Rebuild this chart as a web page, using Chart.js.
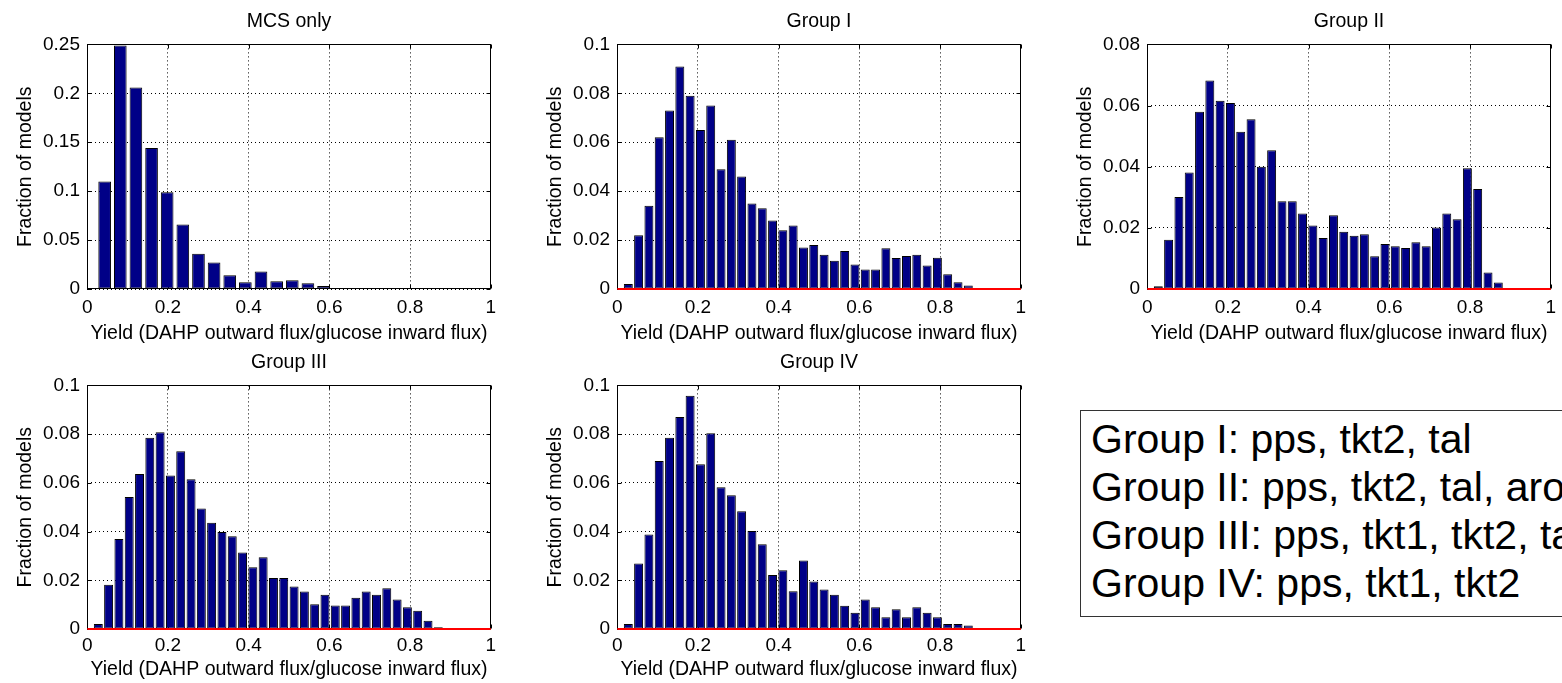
<!DOCTYPE html>
<html>
<head>
<meta charset="utf-8">
<script src="https://cdn.jsdelivr.net/npm/chart.js@4/dist/chart.umd.min.js"></script>
<style>
  html, body { margin: 0; padding: 0; background: #fff; width: 1562px; height: 683px; overflow: hidden; position: relative; }
  canvas { position: absolute; }
  #note {
    position: absolute; left: 1080px; top: 410px; width: 640px; height: 207px;
    box-sizing: border-box; border: 1px solid #333; background: #fff;
    font-family: "Liberation Sans", Arial, Helvetica, sans-serif; font-size: 41px; line-height: 48px;
    padding: 4px 0 0 10px; color: #000; white-space: nowrap;
  }
</style>
</head>
<body>
<div id="note"></div>
<script>
// ---------------- DATA ----------------
const panelTitles = ["MCS only", "Group I", "Group II", "Group III", "Group IV"];
const xAxisTitle = "Yield (DAHP outward flux/glucose inward flux)";
const yAxisTitle = "Fraction of models";
const xTicks = [0, 0.2, 0.4, 0.6, 0.8, 1];
const yMaxes = [0.25, 0.1, 0.08, 0.1, 0.1];
const ySteps = [0.05, 0.02, 0.02, 0.02, 0.02];

// bin centres (yield)
const mcsCenters = [0.0430, 0.0818, 0.1205, 0.1593, 0.1980, 0.2368, 0.2756, 0.3143, 0.3531,
  0.3918, 0.4306, 0.4694, 0.5081, 0.5469, 0.5856, 0.6244, 0.6632];
const groupCenters = [0.0273, 0.0528, 0.0784, 0.1039, 0.1295, 0.1550, 0.1805, 0.2061, 0.2316,
  0.2572, 0.2827, 0.3082, 0.3338, 0.3593, 0.3849, 0.4104, 0.4359, 0.4615, 0.4870, 0.5126,
  0.5381, 0.5636, 0.5892, 0.6147, 0.6403, 0.6658, 0.6913, 0.7169, 0.7424, 0.7680, 0.7935,
  0.8190, 0.8446, 0.8701];

// fractions of models
const mcsOnly = [0.110, 0.249, 0.206, 0.144, 0.099, 0.066, 0.036, 0.027, 0.014, 0.007,
  0.018, 0.008, 0.009, 0.006, 0.003, 0, 0.0004];
const groupI = [0.002, 0.022, 0.034, 0.062, 0.073, 0.091, 0.079, 0.065, 0.075, 0.049, 0.061,
  0.046, 0.035, 0.033, 0.028, 0.024, 0.026, 0.017, 0.018, 0.014, 0.0115, 0.0155, 0.010, 0.008,
  0.008, 0.0167, 0.0127, 0.0135, 0.014, 0.0096, 0.0128, 0.006, 0.0028, 0.0014];
const groupII = [0.0009, 0.0161, 0.0301, 0.0381, 0.058, 0.0682, 0.0616, 0.0608, 0.0514, 0.0555,
  0.040, 0.0454, 0.0287, 0.0287, 0.0247, 0.0208, 0.0167, 0.0241, 0.0187, 0.0174, 0.0179, 0.0107,
  0.0147, 0.014, 0.0134, 0.0153, 0.014, 0.0201, 0.0247, 0.0228, 0.0395, 0.0327, 0.0054, 0.0021];
const groupIII = [0.0021, 0.0182, 0.0369, 0.0542, 0.0636, 0.0785, 0.0808, 0.063, 0.073, 0.0615,
  0.0495, 0.0436, 0.0398, 0.0381, 0.0314, 0.0254, 0.0295, 0.0209, 0.0209, 0.0174, 0.0154, 0.0102,
  0.0141, 0.0096, 0.0096, 0.0128, 0.0154, 0.0141, 0.0167, 0.0121, 0.0089, 0.0075, 0.0034, 0.0007];
const groupIV = [0.0021, 0.0269, 0.0388, 0.069, 0.0785, 0.087, 0.0957, 0.0676, 0.0804, 0.0582,
  0.0549, 0.0483, 0.0402, 0.0348, 0.0222, 0.0241, 0.0155, 0.0281, 0.0195, 0.0162, 0.0141, 0.0095,
  0.0067, 0.0121, 0.0089, 0.0048, 0.0081, 0.0048, 0.0089, 0.0067, 0.0048, 0.0021, 0.0021, 0.0014];

const baselineRange = [0, 1];   // red zero line extent (yield)
const noteLines = [
  "Group I: pps, tkt2, tal",
  "Group II: pps, tkt2, tal, aroG",
  "Group III: pps, tkt1, tkt2, tal",
  "Group IV: pps, tkt1, tkt2"
];

// ---------------- LAYOUT ----------------
const FONT = '"Liberation Sans", Arial, Helvetica, sans-serif';
Chart.defaults.font.family = FONT;
Chart.defaults.color = '#000';

const panelCenters = [mcsCenters, groupCenters, groupCenters, groupCenters, groupCenters];
const panelValues = [mcsOnly, groupI, groupII, groupIII, groupIV];
const panelRedLine = [false, true, true, true, true];
const panelBarPct = [0.81, 0.87, 0.87, 0.87, 0.87];
const panelPos = [[0, 0, 0], [530, 0, 0], [1060, 0, 0], [0, 341, 1], [530, 341, 1]];
const rowXAxisH = [61, 62];
const rowTickPad = [7.3, 5.6];
const rowXTitlePad = [5, 9.2];
const CW = 500, CH = 350;
const fmt = v => String(parseFloat(Number(v).toFixed(6)));

document.getElementById('note').innerHTML = noteLines.map(t => '<div>' + t + '</div>').join('');

const matlabAxes = {
  id: 'matlabAxes',
  beforeDatasetsDraw(chart) {
    const {ctx, chartArea: a, scales: {x, y}} = chart;
    const L = Math.round(a.left) + 0.5, R = Math.round(a.right) - 0.5;
    const T = Math.round(a.top) + 0.5, B = Math.round(a.bottom) - 0.5;
    ctx.save();
    ctx.strokeStyle = '#000';
    ctx.lineWidth = 1;
    ctx.beginPath();
    const tl = 4;
    x.ticks.forEach(t => {
      const px = Math.round(x.getPixelForValue(t.value)) + 0.5;
      ctx.moveTo(px, B); ctx.lineTo(px, B - tl);
      ctx.moveTo(px, T); ctx.lineTo(px, T + tl);
    });
    y.ticks.forEach(t => {
      const py = Math.round(y.getPixelForValue(t.value)) + 0.5;
      ctx.moveTo(L, py); ctx.lineTo(L + tl, py);
      ctx.moveTo(R, py); ctx.lineTo(R - tl, py);
    });
    ctx.stroke();
    ctx.strokeRect(L, T, R - L, B - T);
    ctx.restore();
  }
};

panelTitles.forEach((title, i) => {
  const [left, top, row] = panelPos[i];
  const cv = document.createElement('canvas');
  cv.width = CW; cv.height = CH;
  cv.style.left = left + 'px'; cv.style.top = top + 'px';
  cv.style.width = CW + 'px'; cv.style.height = CH + 'px';
  document.body.appendChild(cv);

  const centers = panelCenters[i];
  const vals = panelValues[i];
  const datasets = [{
    type: 'bar',
    data: centers.map((c, k) => ({x: c, y: vals[k]})),
    backgroundColor: 'rgb(0,0,135)',
    borderColor: '#000',
    borderWidth: 1,
    borderSkipped: false,
    barPercentage: panelBarPct[i],
    categoryPercentage: 1,
    order: 1
  }];
  if (panelRedLine[i]) {
    datasets.push({
      type: 'line',
      data: baselineRange.map(v => ({x: v, y: 0})),
      borderColor: '#ff0000',
      borderWidth: 2,
      pointRadius: 0,
      fill: false,
      clip: false,
      order: 0
    });
  }

  new Chart(cv, {
    type: 'bar',
    data: {datasets},
    plugins: [matlabAxes],
    options: {
      responsive: false,
      animation: false,
      devicePixelRatio: 1,
      events: [],
      layout: {padding: {left: 0, right: 9.3, top: 0, bottom: 0}},
      plugins: {
        legend: {display: false},
        tooltip: {enabled: false},
        title: {
          display: true, text: title, fullSize: false, color: '#000',
          font: {size: 19.5, weight: 'normal', lineHeight: 1.2},
          padding: {top: 10, bottom: 11}
        }
      },
      scales: {
        x: {
          type: 'linear', min: 0, max: 1, offset: false,
          afterBuildTicks: s => { s.ticks = xTicks.map(v => ({value: v})); },
          afterFit: s => { s.height = rowXAxisH[row]; s.paddingLeft = 0; s.paddingRight = 0; },
          ticks: {font: {size: 19}, padding: rowTickPad[row], maxRotation: 0, color: '#000', callback: fmt},
          grid: {display: true, color: '#000', lineWidth: 1, drawTicks: false, offset: false},
          border: {display: false, dash: [1, 3]},
          title: {display: true, text: xAxisTitle, color: '#000',
                  font: {size: 19.5, lineHeight: 1.2}, padding: {top: 0, bottom: rowXTitlePad[row]}}
        },
        y: {
          type: 'linear', min: 0, max: yMaxes[i],
          ticks: {stepSize: ySteps[i], font: {size: 19}, padding: 7.3, color: '#000', callback: fmt},
          afterFit: s => { s.width = 87.3; s.paddingTop = 0; s.paddingBottom = 0; },
          grid: {display: true, color: '#000', lineWidth: 1, drawTicks: false},
          border: {display: false, dash: [1, 3]},
          title: {display: true, text: yAxisTitle, color: '#000',
                  font: {size: 19.5, lineHeight: 1.2}, padding: {top: 13.5, bottom: 0}}
        }
      }
    }
  });
});
</script>
</body>
</html>
